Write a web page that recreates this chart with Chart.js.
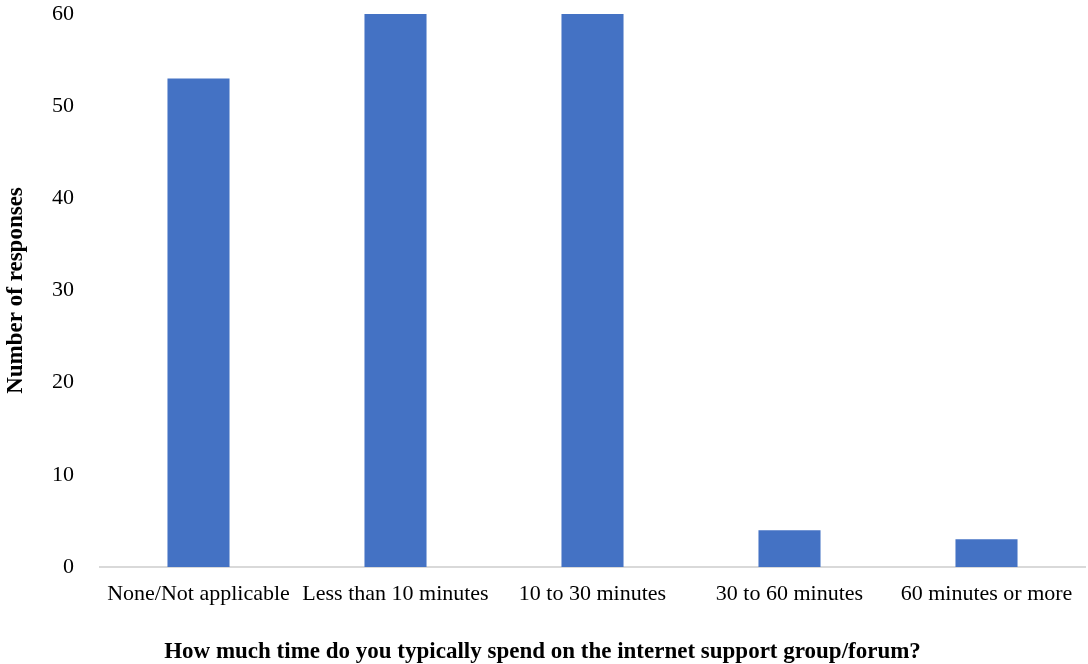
<!DOCTYPE html>
<html>
<head>
<meta charset="utf-8">
<script src="https://cdn.jsdelivr.net/npm/chart.js@4/dist/chart.umd.min.js"></script>
<style>
  html, body { margin: 0; padding: 0; background: #fff; }
  #wrap { width: 1088px; height: 664px; position: relative; }
</style>
</head>
<body>
<div id="wrap"><canvas id="chart"></canvas></div>
<script>
// categorias e respostas
const categories = [
  "None/Not applicable",
  "Less than 10 minutes",
  "10 to 30 minutes",
  "30 to 60 minutes",
  "60 minutes or more",
];
const responses = [53, 60, 60, 4, 3];
const yTicks = [0, 10, 20, 30, 40, 50, 60];

const serif = "'Liberation Serif', 'Times New Roman', serif";

new Chart(document.getElementById("chart"), {
  type: "bar",
  data: {
    labels: categories,
    datasets: [
      {
        label: "Number of responses",
        data: responses,
        backgroundColor: "#4472C4",
        barPercentage: 0.315,
        categoryPercentage: 1,
      },
    ],
  },
  options: {
    responsive: true,
    maintainAspectRatio: false,
    animation: false,
    layout: { padding: { top: 0, right: 3, left: 0, bottom: 0 } },
    plugins: {
      legend: { display: false },
      tooltip: { enabled: false },
      // titulo do eixo x centrado no canvas inteiro
      title: {
        display: true,
        position: "bottom",
        text: "How much time do you typically spend on the internet support group/forum?",
        color: "#000",
        font: { family: serif, size: 23, weight: "bold", lineHeight: 1 },
        padding: { top: 10, bottom: 0 },
      },
    },
    scales: {
      x: {
        grid: { display: false },
        border: { display: true, color: "#d9d9d9", width: 2 },
        ticks: {
          color: "#000",
          font: { family: serif, size: 22 },
          padding: 6,
          maxRotation: 0,
          autoSkip: false,
        },
        afterFit: (scale) => {
          scale.height = 64;
        },
      },
      y: {
        min: 0,
        max: 60,
        grid: { display: false },
        border: { display: false },
        afterBuildTicks: (scale) => {
          scale.ticks = yTicks.map((v) => ({ value: v }));
        },
        ticks: {
          color: "#000",
          font: { family: serif, size: 22 },
          padding: 18,
        },
        title: {
          display: true,
          text: "Number of responses",
          color: "#000",
          font: { family: serif, size: 23, weight: "bold" },
          padding: { top: 2, bottom: 0 },
        },
        afterFit: (scale) => {
          scale.width = 100;
          scale.paddingTop = 14;
        },
      },
    },
  },
});
</script>
</body>
</html>
